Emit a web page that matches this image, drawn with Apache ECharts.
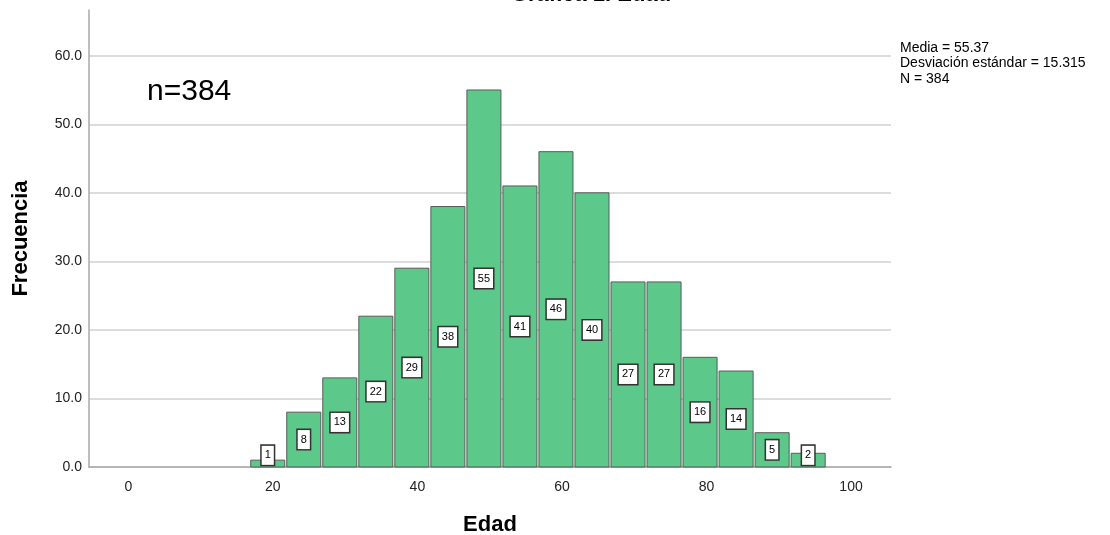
<!DOCTYPE html>
<html>
<head>
<meta charset="utf-8">
<script src="https://cdn.jsdelivr.net/npm/echarts@6/dist/echarts.min.js"></script>
<style>
html,body{margin:0;padding:0;background:#fff;}
#chart{width:1110px;height:535px;}
</style>
</head>
<body>
<div id="chart"></div>
<script>
// ---- data ----
const binStart = 16.8;          // lower edge of first age bin
const binWidth = 4.985;         // width of each age bin
const counts = [1, 8, 13, 22, 29, 38, 55, 41, 46, 40, 27, 27, 16, 14, 5, 2];
const xTickLabels = [0, 20, 40, 60, 80, 100];
const yTickLabels = [0, 10, 20, 30, 40, 50, 60];
const statsLines = ['Media = 55.37', 'Desviación estándar = 15.315', 'N = 384'];
const chartTitle = 'Gráfica 1. Edad';
const sampleNote = 'n=384';

const FONT = '"Liberation Sans", Arial, sans-serif';

const barData = counts.map((c, i) => [binStart + i * binWidth, binStart + (i + 1) * binWidth, c]);

const chart = echarts.init(document.getElementById('chart'));
chart.setOption({
  animation: false,
  backgroundColor: '#fff',
  textStyle: { fontFamily: FONT },
  grid: { left: 89, right: 219, top: 10, bottom: 68, containLabel: false, outerBoundsMode: 'none' },
  xAxis: {
    type: 'value',
    min: -5.44,
    max: 105.53,
    name: 'Edad',
    nameLocation: 'middle',
    nameGap: 47,
    nameTextStyle: { fontSize: 22, fontWeight: 'bold', color: '#000', fontFamily: FONT },
    axisLine: { show: true, onZero: false, lineStyle: { color: '#a8a8a8', width: 1.5 } },
    axisTick: { show: false },
    splitLine: { show: false },
    axisLabel: { customValues: xTickLabels, fontSize: 14, color: '#222', margin: 13, fontFamily: FONT }
  },
  yAxis: {
    type: 'value',
    min: 0,
    max: 66.67,
    interval: 10,
    name: 'Frecuencia',
    nameLocation: 'middle',
    nameGap: 57,
    nameTextStyle: { fontSize: 22, fontWeight: 'bold', color: '#000', fontFamily: FONT },
    axisLine: { show: true, onZero: false, lineStyle: { color: '#a8a8a8', width: 1.5 } },
    axisTick: { show: false },
    splitLine: { show: true, showMaxLine: false, lineStyle: { color: '#d0d0d0', width: 1.5 } },
    axisLabel: {
      customValues: yTickLabels,
      fontSize: 14, color: '#222', margin: 7, fontFamily: FONT,
      formatter: v => v.toFixed(1)
    }
  },
  series: [{
    type: 'custom',
    data: barData,
    encode: { x: [0, 1], y: 2 },
    renderItem: function (params, api) {
      const x0 = api.value(0), x1 = api.value(1), v = api.value(2);
      const pTop = api.coord([x0, v]);
      const pBot = api.coord([x1, 0]);
      const lab = api.coord([(x0 + x1) / 2, Math.max(v / 2, 1.7)]);
      return {
        type: 'group',
        children: [{
          type: 'rect',
          shape: { x: pTop[0] + 1, y: pTop[1], width: pBot[0] - pTop[0] - 2, height: pBot[1] - pTop[1] },
          style: { fill: '#5cc98a', stroke: '#5a5a5a', lineWidth: 1 }
        }, {
          type: 'text',
          x: lab[0], y: lab[1],
          style: {
            text: String(v), fontSize: 11, fontFamily: FONT, fill: '#000',
            align: 'center', verticalAlign: 'middle',
            backgroundColor: '#fff', borderColor: '#333', borderWidth: 1.5,
            padding: [4, 3, 4, 3]
          }
        }]
      };
    }
  }],
  graphic: [{
    type: 'text', x: 591, y: -5.5,
    style: { text: chartTitle, fontSize: 22, fontWeight: 'bold', fontFamily: FONT, fill: '#000', align: 'center', verticalAlign: 'middle' }
  }, {
    type: 'text', x: 147, y: 92,
    style: { text: sampleNote, fontSize: 30, fontFamily: FONT, fill: '#000', align: 'left', verticalAlign: 'middle' }
  }, {
    type: 'text', x: 900, y: 40,
    style: { text: statsLines.join('\n'), fontSize: 14, lineHeight: 15.6, fontFamily: FONT, fill: '#000', align: 'left', verticalAlign: 'top' }
  }]
});
</script>
</body>
</html>
